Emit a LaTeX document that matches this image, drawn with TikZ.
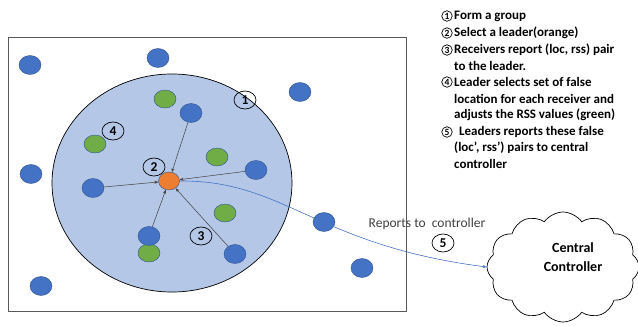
\documentclass[tikz,border=0pt]{standalone}
\usepackage{fontspec}
\setmainfont{Carlito}
\usetikzlibrary{shapes.geometric,shapes.symbols,arrows.meta}
\definecolor{dotblue}{HTML}{4472C4}
\definecolor{dotedge}{HTML}{2F528F}
\definecolor{dotgreen}{HTML}{70AD47}
\definecolor{dotorange}{HTML}{ED7D31}
\definecolor{zone}{HTML}{B4C7E7}
\definecolor{txtgray}{HTML}{404040}
\begin{document}
\begin{tikzpicture}[x=1pt,y=-1pt,
  bdot/.style={ellipse,fill=dotblue,draw=dotedge,line width=0.4pt,minimum width=22pt,minimum height=19pt,inner sep=0pt},
  gdot/.style={ellipse,fill=dotgreen,draw=dotedge,line width=0.4pt,minimum width=22pt,minimum height=18pt,inner sep=0pt},
  odot/.style={ellipse,fill=dotorange,draw=dotedge,line width=0.4pt,minimum width=21pt,minimum height=18pt,inner sep=0pt},
  numlbl/.style={ellipse,draw=black,line width=0.7pt,minimum width=22pt,minimum height=18pt,inner sep=0pt,font=\fontsize{13.5}{13.5}\selectfont\bfseries},
  listnum/.style={circle,draw=black,line width=0.7pt,minimum size=10.5pt,inner sep=0pt,font=\fontsize{9.5}{9.5}\selectfont\bfseries},
  listtxt/.style={anchor=west,inner sep=0pt,font=\fontsize{13}{13}\selectfont\bfseries},
  report/.style={-{Stealth[length=4pt,width=3pt]},draw=black!75,line width=0.5pt}
]
\useasboundingbox (0,0) rectangle (638,325);
\clip (0,0) rectangle (638,325);
% frame
\node[draw=black!65,line width=1pt,minimum width=398pt,minimum height=274pt,inner sep=0pt] (frame) at (207,174) {};
% group zone
\node[ellipse,fill=zone,draw=black,line width=0.7pt,minimum width=240pt,minimum height=218pt,inner sep=0pt] (zone) at (172,183) {};
% outside blue dots
\node[bdot] (o1) at (30,65) {};
\node[bdot] (o2) at (158,58) {};
\node[bdot] (o3) at (300,92) {};
\node[bdot] (o4) at (31,174) {};
\node[bdot] (o5) at (41,286) {};
\node[bdot] (o6) at (324,222) {};
\node[bdot] (o7) at (362,268) {};
% inside
\node[gdot] (g1) at (165,99) {};
\node[gdot] (g2) at (95,144) {};
\node[gdot] (g3) at (217,157) {};
\node[gdot] (g4) at (225,213) {};
\node[gdot] (g5) at (149,253) {};
\node[bdot] (b1) at (191,113) {};
\node[bdot] (b2) at (256,170) {};
\node[bdot] (b3) at (93,188) {};
\node[bdot] (b4) at (149,236) {};
\node[bdot] (b5) at (235,254) {};
\node[odot] (lead) at (169,181) {};
% arrows to leader
\draw[report] (b1) -- (lead);
\draw[report] (b2) -- (lead);
\draw[report] (b3) -- (lead);
\draw[report] (b4) -- (lead);
\draw[report] (b5) -- (lead);
% step labels
\node[numlbl] (n1) at (245,100) {1};
\node[numlbl] (n2) at (154,167) {2};
\node[numlbl] (n3) at (201,236) {3};
\node[numlbl] (n4) at (113,131) {4};
% cloud
\node[cloud,draw=black,line width=0.7pt,fill=white,cloud puffs=12,cloud puff arc=110,aspect=1.4,minimum width=152pt,minimum height=110pt,inner sep=0pt] (cloud) at (563,267) {};
\node[align=center,font=\fontsize{14}{18.5}\selectfont\bfseries] (ctext) at (573,257) {Central\\Controller};
% report curve
\draw[dotblue,line width=0.6pt,-{Stealth[length=4pt,width=3pt]}] (lead.east) .. controls (285,180) and (315,245) .. (cloud.west);
\node[text=txtgray,font=\fontsize{13.5}{13.5}\selectfont,inner sep=0pt] (rtext) at (427,224) {Reports to\ \ controller};
\node[numlbl] (n5) at (443,243) {5};
% list
\node[listnum] (l1) at (447,16) {1};
\node[listtxt] (t1) at (454,16) {Form a group};
\node[listnum] (l2) at (447,33) {2};
\node[listtxt] (t2) at (454,33) {Select a leader(orange)};
\node[listnum] (l3) at (447,50) {3};
\node[listtxt] (t3) at (454,50) {Receivers report (loc, rss) pair};
\node[listtxt] (t3b) at (454,66) {to the leader.};
\node[listnum] (l4) at (447,82) {4};
\node[listtxt] (t4) at (454,82) {Leader selects set of false};
\node[listtxt] (t4b) at (454,99) {location for each receiver and};
\node[listtxt] (t4c) at (454,115) {adjusts the RSS values (green)};
\node[listnum] (l5) at (447,132) {5};
\node[listtxt] (t5) at (456,132) {\ Leaders reports these false};
\node[listtxt] (t5b) at (454,148) {(loc’, rss’) pairs to central};
\node[listtxt] (t5c) at (454,164) {controller};
\end{tikzpicture}
\end{document}
